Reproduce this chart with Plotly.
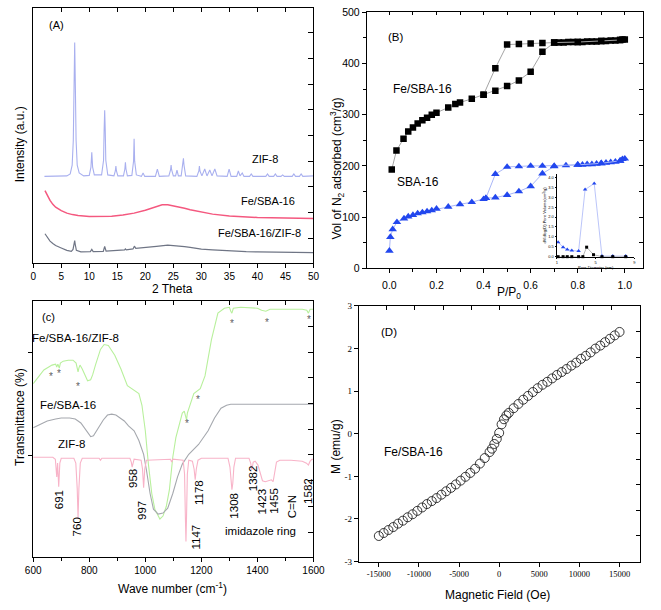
import plotly.graph_objects as go

W, H = 661, 610
SANS = "Liberation Sans, Arial, sans-serif"
SERIF = "Liberation Serif, Times New Roman, serif"

# ---------------- (A) XRD: (2 theta, intensity a.u.) ----------------
ZIF8_XRD = [(2.0, 88.5), (4.0, 88.5), (6.0, 89), (6.6, 91), (6.95, 100), (7.15, 125), (7.28, 180),
            (7.4, 225), (7.52, 180), (7.65, 125), (7.85, 100), (8.2, 92), (9.0, 89),
            (10.0, 89.5), (10.3, 98), (10.45, 113), (10.6, 98), (10.9, 90),
            (12.2, 90), (12.55, 105), (12.65, 135), (12.75, 156), (12.85, 135), (12.95, 105), (13.3, 90),
            (14.4, 89), (14.65, 94), (14.75, 99), (14.85, 94), (15.1, 89),
            (16.1, 89), (16.35, 96), (16.45, 103), (16.55, 96), (16.8, 89),
            (17.6, 89.5), (17.9, 104), (18.0, 127), (18.1, 104), (18.4, 90),
            (19.3, 88.5), (19.6, 92), (19.9, 88.5), (21.8, 88.5), (22.15, 96), (22.5, 88.5),
            (24.2, 89), (24.5, 95), (24.6, 100), (24.7, 95), (25.0, 89), (25.4, 89), (25.65, 95), (25.9, 89),
            (26.4, 89), (26.7, 100), (26.8, 107), (26.9, 100), (27.2, 89),
            (29.2, 88.5), (29.55, 94), (29.65, 99), (29.75, 94), (30.1, 89), (30.6, 96), (31.0, 89),
            (31.5, 95), (31.9, 89), (32.4, 96), (32.8, 89),
            (34.6, 88.5), (34.95, 96), (35.3, 88.5), (36.3, 88.5), (36.6, 94), (36.9, 89), (37.3, 92),
            (37.6, 88.5), (38.6, 88.5), (38.9, 91), (39.2, 88.5), (41.5, 88.5), (41.8, 91), (42.1, 88.5),
            (42.9, 88.5), (43.2, 91), (43.5, 88.5), (44.2, 88.5), (44.5, 90), (44.8, 88.5),
            (46.2, 88.5), (46.5, 91), (46.8, 88.5), (47.5, 88.5), (47.8, 91), (48.1, 88.5), (50.0, 89)]
FESBA_XRD = [(2.1, 74), (2.5, 69), (3, 64), (3.5, 60), (4, 57), (5, 53.5), (6, 51), (7, 49.5), (8, 48.5),
             (10, 47.5), (12, 47.3), (14, 47.8), (16, 49), (18, 51), (20, 54), (21, 56), (22, 58),
             (23, 59.5), (24, 59.5), (25, 58.5), (26, 57.5), (27, 56), (28, 54.5), (30, 52), (32, 50),
             (35, 48), (38, 47), (40, 46.5), (45, 46), (50, 45.5)]
COMP_XRD = [(2.1, 30), (2.5, 26), (3, 22.5), (3.5, 20), (4, 18), (5, 15.5), (6, 13), (6.8, 12), (7.1, 14),
            (7.3, 20), (7.4, 23), (7.5, 19), (7.7, 13), (8.5, 11.5), (10.2, 11.7), (10.45, 14), (10.7, 11.7),
            (12.5, 12), (12.75, 17), (13.0, 12.2), (14.7, 12.5), (16.3, 13.5), (16.45, 14.5), (16.6, 13.6),
            (17.8, 14.5), (18.05, 17.3), (18.3, 15), (20, 15.7), (22, 17), (24, 18.3), (25, 18),
            (26.6, 17), (26.8, 17.5), (27.0, 16.8), (28, 16), (30, 14.3), (32, 13.5), (35, 12.4), (38, 11.8),
            (40, 11.5), (45, 11), (50, 10.7)]

# ---------------- (B) N2 isotherms ----------------
FE_ADS_P = [0.01, 0.03, 0.06, 0.08, 0.10, 0.12, 0.14, 0.16, 0.18, 0.20, 0.25, 0.28, 0.30, 0.35, 0.40, 0.45,
            0.50, 0.55, 0.60, 0.65, 0.70, 0.72, 0.74, 0.76, 0.78, 0.80, 0.82, 0.84, 0.86, 0.88, 0.90, 0.92,
            0.94, 0.96, 0.98, 0.99, 1.00]
FE_ADS_V = [193, 230, 253, 267, 275, 283, 289, 294, 300, 304, 314, 321, 324, 331, 339, 347,
            356, 367, 384, 423, 441, 441, 441, 442, 442, 442, 442, 443, 443, 443, 444, 444,
            445, 445, 446, 447, 447]
FE_DES_P = [0.98, 0.90, 0.80, 0.70, 0.65, 0.60, 0.55, 0.50, 0.45, 0.40]
FE_DES_V = [446, 444, 442, 441, 440, 439, 438, 437, 391, 339]
SBA_ADS_P = [0.0, 0.004, 0.014, 0.032, 0.062, 0.08, 0.10, 0.12, 0.14, 0.16, 0.18, 0.20, 0.25, 0.30, 0.35,
             0.40, 0.41, 0.45, 0.50, 0.55, 0.60, 0.65, 0.70, 0.75, 0.80, 0.82, 0.84, 0.86, 0.88, 0.90,
             0.92, 0.94, 0.96, 0.98, 0.99, 1.00]
SBA_ADS_V = [34, 61, 76, 90, 97, 101, 104, 107, 109, 111, 113, 116, 120, 125, 129,
             135, 137, 138, 143, 150, 160, 185, 199, 201, 202, 202, 203, 203, 204, 205,
             206, 207, 208, 210, 213, 214]
SBA_DES_P = [0.98, 0.90, 0.80, 0.70, 0.65, 0.60, 0.55, 0.50, 0.45, 0.41]
SBA_DES_V = [210, 205, 202, 200, 200, 200, 199, 198, 184, 137]
# inset: pore size distribution
PSD_SBA_D = [1.13, 1.64, 2.07, 2.54, 3.24, 3.91, 4.85, 5.65, 6.76, 8.1]
PSD_SBA_V = [0.73, 0.48, 0.36, 0.31, 0.28, 3.39, 3.70, 0.03, 0.03, 0.03]
PSD_FE_D = [1.13, 1.64, 2.07, 2.54, 3.24, 3.68, 4.07, 4.78, 5.65, 6.76, 8.1]
PSD_FE_V = [0.0, 0.0, 0.0, 0.0, 0.0, 0.0, 0.48, 0.10, 0.0, 0.0, 0.0]

# ---------------- (C) FTIR: (wave number, transmittance a.u.) ----------------
COMP_IR = [(600, 177), (620, 184), (638, 191), (667, 196), (680, 197), (684, 194), (688, 197), (693, 193),
           (697, 198), (707, 200), (725, 201), (742, 201), (753, 198), (757, 193), (760, 189), (763, 193),
           (767, 196), (775, 192), (782, 187), (794, 180), (805, 181), (812, 186), (822, 196), (840, 212),
           (853, 217), (868, 216), (891, 206), (913, 192), (936, 175), (960, 170), (977, 167), (988, 155),
           (1000, 129), (1011, 95), (1023, 65), (1034, 49), (1052, 39), (1063, 42), (1075, 52), (1086, 69),
           (1098, 102), (1109, 122), (1121, 135), (1132, 147), (1139, 149), (1144, 144), (1147, 140),
           (1150, 147), (1155, 151), (1173, 167), (1196, 172), (1213, 185), (1236, 222), (1259, 249),
           (1282, 254), (1300, 255), (1305, 251), (1309, 249), (1314, 254), (1340, 255), (1400, 254),
           (1415, 252), (1430, 251), (1445, 253), (1500, 253), (1560, 253), (1576, 252), (1582, 249),
           (1588, 253), (1600, 253)]
FESBA_IR = [(600, 132), (620, 135), (650, 139), (680, 141), (700, 142), (730, 142), (750, 141), (770, 137),
            (785, 131), (795, 126), (805, 123), (815, 124), (830, 131), (850, 140), (865, 145), (880, 146),
            (895, 145), (910, 142), (925, 139), (940, 134), (960, 129), (977, 119), (994, 105), (1004, 89),
            (1017, 65), (1029, 49), (1046, 44), (1063, 45), (1080, 50), (1098, 65), (1115, 82), (1132, 95),
            (1155, 105), (1190, 115), (1224, 129), (1247, 142), (1260, 148), (1270, 152), (1290, 155),
            (1305, 156), (1340, 156), (1450, 156), (1600, 156)]
ZIF8_IR = [(600, 102), (670, 102), (679, 100), (684, 82), (687, 96), (691, 72), (695, 96), (700, 101),
           (745, 101), (752, 96), (757, 70), (760, 40), (763, 70), (768, 96), (775, 101), (835, 101),
           (840, 99), (845, 101), (945, 101), (950, 97), (953, 92), (956, 97), (960, 100), (985, 99),
           (990, 90), (994, 71), (998, 90), (1004, 99), (1090, 100), (1094, 97), (1098, 100), (1135, 99),
           (1140, 85), (1143, 40), (1145, 16), (1147, 40), (1150, 85), (1155, 99), (1168, 98), (1174, 90),
           (1178, 79), (1182, 90), (1188, 99), (1200, 101), (1295, 101), (1302, 92), (1306, 75), (1309, 69),
           (1312, 75), (1316, 92), (1322, 101), (1370, 101), (1376, 96), (1380, 89), (1385, 97), (1392, 98),
           (1402, 94), (1410, 86), (1418, 78), (1428, 77), (1440, 78), (1450, 79), (1456, 77), (1462, 88),
           (1468, 97), (1480, 99), (1520, 99), (1560, 98), (1575, 96), (1582, 94), (1588, 98), (1595, 100),
           (1600, 100)]
IR_PEAK_LABELS = ["691", "760", "958", "997", "1147", "1178", "1308", "1382", "1423", "1455", "C=N", "1582"]

# ---------------- (D) magnetisation ----------------
FIELD = [-15000, -14400, -13800, -13200, -12600, -12000, -11400, -10800, -10200, -9600, -9000, -8400,
         -7800, -7200, -6600, -6000, -5400, -4800, -4200, -3600, -3000, -2400, -1800, -1200, -900, -600,
         -300, 0, 300, 600, 900, 1200, 1800, 2400, 3000, 3600, 4200, 4800, 5400, 6000, 6600, 7200, 7800,
         8400, 9000, 9600, 10200, 10800, 11400, 12000, 12600, 13200, 13800, 14400, 15000]
MOMENT = [-2.40, -2.33, -2.26, -2.19, -2.11, -2.04, -1.96, -1.89, -1.81, -1.73, -1.65, -1.58,
          -1.51, -1.43, -1.35, -1.27, -1.19, -1.10, -1.01, -0.92, -0.82, -0.70, -0.57, -0.43, -0.35, -0.24,
          -0.12, 0.02, 0.22, 0.34, 0.43, 0.49, 0.60, 0.70, 0.80, 0.89, 0.98, 1.07, 1.15, 1.22, 1.30, 1.38, 1.45,
          1.52, 1.60, 1.67, 1.76, 1.83, 1.91, 2.00, 2.07, 2.15, 2.23, 2.31, 2.39]
D_XTICKS = [-15000, -10000, -5000, 0, 5000, 10000, 15000]
D_YTICKS = [-3, -2, -1, 0, 1, 2, 3]


def unzip(pairs):
    return [p[0] for p in pairs], [p[1] for p in pairs]


def dom_x(a, b):
    return [a / W, b / W]


def dom_y(bottom, top):
    return [1 - bottom / H, 1 - top / H]


fig = go.Figure()

# (A)
for pairs, col, lw in [(ZIF8_XRD, "#a9b0ef", 1.1), (FESBA_XRD, "#f4587f", 1.5), (COMP_XRD, "#6f7585", 1.2)]:
    x, y = unzip(pairs)
    fig.add_trace(go.Scatter(x=x, y=y, mode="lines", line=dict(color=col, width=lw),
                             xaxis="x", yaxis="y", showlegend=False, hoverinfo="skip"))

# (B)
for px_, vy_ in [(FE_ADS_P, FE_ADS_V), (FE_DES_P, FE_DES_V)]:
    fig.add_trace(go.Scatter(x=px_, y=vy_, mode="lines+markers", xaxis="x2", yaxis="y2",
                             line=dict(color="#a4a4a4", width=1),
                             marker=dict(symbol="square", size=6.5, color="black"),
                             showlegend=False, hoverinfo="skip"))
for px_, vy_ in [(SBA_ADS_P, SBA_ADS_V), (SBA_DES_P, SBA_DES_V)]:
    fig.add_trace(go.Scatter(x=px_, y=vy_, mode="lines+markers", xaxis="x2", yaxis="y2",
                             line=dict(color="#a9b6f7", width=1),
                             marker=dict(symbol="triangle-up", size=7.5, color="#2247ee"),
                             showlegend=False, hoverinfo="skip"))
# inset
fig.add_trace(go.Scatter(x=PSD_SBA_D, y=PSD_SBA_V, mode="lines+markers", xaxis="x5", yaxis="y5",
                         line=dict(color="#a9b6f7", width=0.8), marker=dict(symbol="triangle-up", size=4, color="#2247ee"),
                         showlegend=False, hoverinfo="skip", cliponaxis=False))
fig.add_trace(go.Scatter(x=PSD_FE_D, y=PSD_FE_V, mode="lines+markers", xaxis="x5", yaxis="y5",
                         line=dict(color="#a4a4a4", width=0.8), marker=dict(symbol="square", size=3, color="black"),
                         showlegend=False, hoverinfo="skip", cliponaxis=False))

# (C)
for pairs, col in [(COMP_IR, "#b8f09c"), (FESBA_IR, "#a5a8ae"), (ZIF8_IR, "#f8b3c8")]:
    x, y = unzip(pairs)
    fig.add_trace(go.Scatter(x=x, y=y, mode="lines", line=dict(color=col, width=1.1),
                             xaxis="x3", yaxis="y3", showlegend=False, hoverinfo="skip"))

# (D)
fig.add_trace(go.Scatter(x=FIELD, y=MOMENT, mode="markers", xaxis="x4", yaxis="y4",
                         marker=dict(symbol="circle-open", size=9, color="#222", line=dict(width=0.9)),
                         showlegend=False, hoverinfo="skip"))

# dummy traces for mirrored (top/right) tick axes
for i in (6, 7, 8, 9):
    fig.add_trace(go.Scatter(x=[None], y=[None], xaxis=f"x{i}", yaxis=f"y{i}", mode="markers",
                             showlegend=False, hoverinfo="skip"))

base = dict(showline=True, linecolor="black", linewidth=1, mirror=True, showgrid=False, zeroline=False,
            ticks="outside", tickcolor="black", ticklen=4, tickwidth=1,
            tickfont=dict(family=SANS, size=10, color="black"))
over = dict(showline=False, showgrid=False, zeroline=False, ticks="inside", tickcolor="black",
            ticklen=4, tickwidth=1, showticklabels=False)

AX = dom_x(26, 315)
AY = dom_y(262.3, 2)
BX = dom_x(370, 655)
BY = dom_y(267.5, 6.5)
CX = dom_x(26, 315)
CY = dom_y(562.3, 301)
DX = dom_x(361.7, 651.3)
DY = dom_y(566.7, 306)
IX = dom_x(566, 646)
IY = dom_y(255.7, 171.7)

small = dict(family=SANS, size=4, color="black")
lay = dict(
    width=W, height=H, margin=dict(l=0, r=0, t=0, b=0), paper_bgcolor="white", plot_bgcolor="rgba(0,0,0,0)",
    showlegend=False,
    # A
    xaxis=dict(base, domain=AX, range=[0, 50], tick0=0, dtick=5, anchor="y"),
    yaxis=dict(base, domain=AY, range=[0, 260.3], ticks="", showticklabels=False, anchor="x"),
    xaxis6=dict(over, overlaying="x", side="top", anchor="y6", range=[0, 50], tick0=0, dtick=5),
    yaxis6=dict(over, overlaying="y", side="right", anchor="x6", range=[0, 260.3], tick0=25.5, dtick=26.2, ticklen=5),
    # B
    xaxis2=dict(base, domain=BX, range=[-0.096, 1.078], tick0=0, dtick=0.2, tickformat=".1f", anchor="y2",
                minor=dict(ticks="outside", dtick=0.1, tick0=0, ticklen=2.5, tickcolor="black"),
                tickfont=dict(family=SANS, size=10.5, color="black"), ticklabelstandoff=3),
    yaxis2=dict(base, domain=BY, range=[0, 500], tick0=0, dtick=100, anchor="x2",
                minor=dict(ticks="outside", dtick=50, ticklen=2.5, tickcolor="black"),
                tickfont=dict(family=SANS, size=10.5, color="black")),
    xaxis7=dict(over, overlaying="x2", side="top", anchor="y7", range=[-0.096, 1.078], tick0=0, dtick=0.1, ticklen=3),
    yaxis7=dict(over, overlaying="y2", side="right", anchor="x7", range=[0, 500], tick0=0, dtick=50),
    # inset
    xaxis5=dict(domain=IX, range=[1, 9], anchor="y5", showline=True, linecolor="black", linewidth=0.7,
                showgrid=False, zeroline=False, ticks="outside", ticklen=1.5, tickwidth=0.6, tickcolor="black",
                tickvals=[1, 5, 9], tickfont=small,
                title=dict(text="Pore Diameter (nm)", font=small, standoff=1)),
    yaxis5=dict(domain=IY, range=[0, 4.16], anchor="x5", showline=True, linecolor="black", linewidth=0.7,
                showgrid=False, zeroline=False, ticks="outside", ticklen=1.5, tickwidth=0.6, tickcolor="black",
                tick0=0, dtick=0.5, tickformat=".1f", tickfont=small,
                title=dict(text="dV/dlog(D) Pore Volume(cm<sup>3</sup>/g)", font=small, standoff=1)),
    # C
    xaxis3=dict(base, domain=CX, range=[600, 1600], tick0=600, dtick=200, anchor="y3",
                minor=dict(ticks="outside", dtick=100, tick0=600, ticklen=3, tickcolor="black")),
    yaxis3=dict(base, domain=CY, range=[0, 261.3], tickvals=[104, 209], showticklabels=False, anchor="x3"),
    xaxis8=dict(over, overlaying="x3", side="top", anchor="y8", range=[600, 1600], tick0=600, dtick=100),
    yaxis8=dict(over, overlaying="y3", side="right", anchor="x8", range=[0, 261.3], tick0=25.7, dtick=26.2, ticklen=5),
    # D
    xaxis4=dict(base, domain=DX, range=[-17500, 17500], tickvals=D_XTICKS,
                ticktext=[str(v) for v in D_XTICKS], anchor="y4",
                tickfont=dict(family=SERIF, size=8.5, color="black")),
    yaxis4=dict(base, domain=DY, range=[-3, 3], tickvals=D_YTICKS, ticktext=[str(v) for v in D_YTICKS],
                anchor="x4", tickfont=dict(family=SERIF, size=9, color="black")),
    xaxis9=dict(over, overlaying="x4", side="top", anchor="y9", range=[-17500, 17500], tick0=0, dtick=3500),
    yaxis9=dict(over, overlaying="y4", side="right", anchor="x9", range=[-3, 3], tick0=0, dtick=0.6),
)
fig.update_layout(**lay)

ann = []


def txt(x, y, s, size=11, angle=0, color="black", family=SANS):
    ann.append(dict(x=x / W, y=1 - y / H, xref="paper", yref="paper", text=s, showarrow=False,
                    font=dict(size=size, color=color, family=family), textangle=angle,
                    xanchor="center", yanchor="middle"))


# panel A texts
txt(50, 19, "(A)", 11)
txt(265, 156, "ZIF-8", 11)
txt(268, 199, "Fe/SBA-16", 11)
txt(259, 232, "Fe/SBA-16/ZIF-8", 11)
txt(170, 289, "2 Theta", 12)
txt(12.5, 141, "Intensity (a.u.)", 12, angle=-90)
# panel B texts
txt(400, 32, "(B)", 11.5)
txt(427, 85, "Fe/SBA-16", 12)
txt(423, 180, "SBA-16", 12)
txt(517, 293, "P/P<sub>0</sub>", 12)
txt(339, 166, "Vol of N<sub>2</sub> adsorbed (cm<sup>3</sup>/g)", 12, angle=-90)
# panel C texts
txt(42, 317, "(c)", 11)
txt(70, 339, "Fe/SBA-16/ZIF-8", 11.5)
txt(62, 407, "Fe/SBA-16", 11.5)
txt(65, 447, "ZIF-8", 11.5)
txt(170, 594, "Wave number (cm<sup>-1</sup>)", 12)
txt(12.5, 419, "Transmittance (%)", 12, angle=-90)
LABEL_POS = [(52.7, 504), (71, 531), (128.3, 482), (138.3, 515), (194, 542), (197.7, 496), (232.7, 510),
             (252.3, 482), (262.3, 505), (274, 505), (293.3, 511), (310, 495)]
for (lx, ly), s in zip(LABEL_POS, IR_PEAK_LABELS):
    txt(lx, ly, s, 11.5, angle=-90)
txt(260, 536, "imidazole ring", 11.5)
for sx, sy in [(44.3, 378), (52.3, 375), (71.7, 388), (185, 426), (195.7, 401), (231, 324), (266.7, 323), (310, 320)]:
    txt(sx, sy, "*", 10, color="#606060")
# panel D texts
txt(393, 333, "(D)", 11.5)
txt(418, 455, "Fe/SBA-16", 12)
txt(505, 601, "Magnetic Field (Oe)", 12)
txt(338, 449, "M (emu/g)", 12, angle=-90)

fig.update_layout(annotations=ann)
fig.write_html("out.html")
